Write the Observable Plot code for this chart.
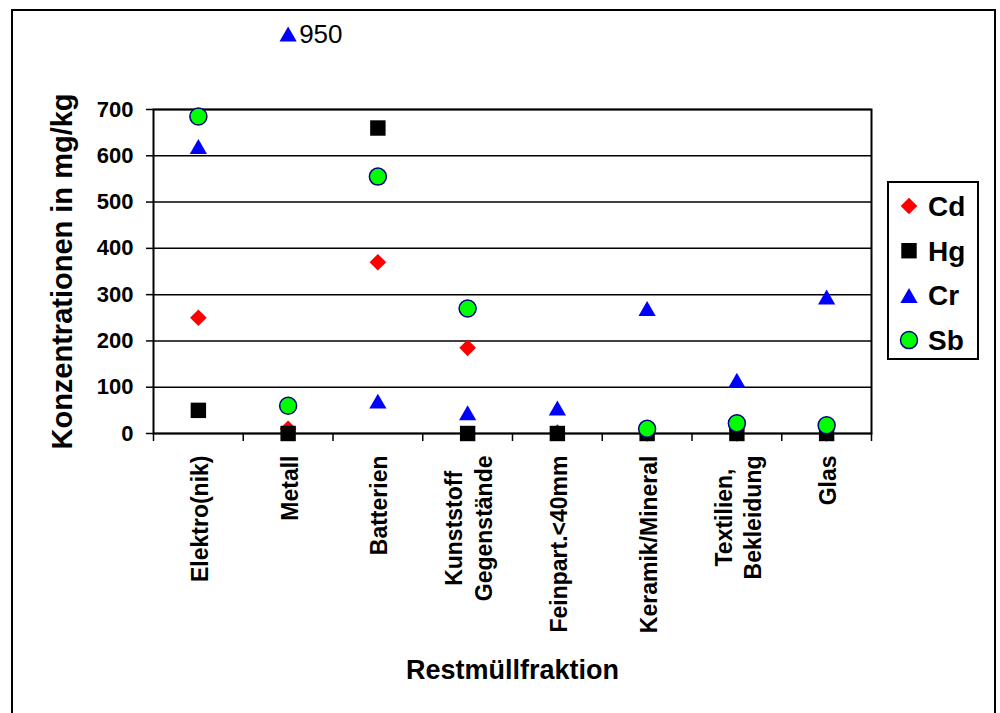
<!DOCTYPE html>
<html>
<head>
<meta charset="utf-8">
<script src="https://cdn.jsdelivr.net/npm/d3@7"></script>
<script src="https://cdn.jsdelivr.net/npm/@observablehq/plot@0.6"></script>
<style>
  html, body { margin: 0; padding: 0; background: #fff; width: 1000px; height: 713px; overflow: hidden; }
  #wrap { position: relative; width: 1000px; height: 713px; font-family: "Liberation Sans", Arial, sans-serif; }
  #border { position: absolute; left: 11px; top: 9px; width: 985px; height: 720px; border: 2px solid #000; box-sizing: border-box; }
  #chart { position: absolute; left: 0; top: 0; }
  #legend { position: absolute; left: 0; top: 0; }
</style>
</head>
<body>
<div id="wrap">
  <div id="border"></div>
  <div id="chart"></div>
  <svg id="legend" width="1000" height="713"></svg>
</div>
<script>
// ---- data ----
const categories = ["Elektro(nik)", "Metall", "Batterien", "Kunststoff\nGegenstände", "Feinpart.<40mm", "Keramik/Mineral", "Textilien,\nBekleidung", "Glas"];
const cd = [250, 10, 370, 185, 2, 0, 0, 0];
const hg = [50, 0, 660, 0, 0, 0, 0, 0];
const cr = [620, 950, 70, 45, 55, 270, 115, 295];
const sb = [685, 60, 555, 270, null, 10, 22, 18];
const yTicks = [0, 100, 200, 300, 400, 500, 600, 700];
const seriesNames = ["Cd", "Hg", "Cr", "Sb"];
const yLabel = "Konzentrationen in mg/kg";
const xLabel = "Restmüllfraktion";

// ---- styles ----
const yMax = 700;
const styles = {
  Cd: {symbol: "diamond2", r: 7.5, fill: "#ff0000", stroke: "none", dy: 0},
  Hg: {symbol: "square", r: 8.7, fill: "#000000", stroke: "none", dy: 0},
  Cr: {symbol: "triangle", r: 6.4, fill: "#0000ff", stroke: "none", dy: 2.5},
  Sb: {symbol: "circle", r: 8.5, fill: "#00ff00", stroke: "#000080", dy: 0}
};

const rows = categories.map((c, i) => ({cat: c, i, Cd: cd[i], Hg: hg[i], Cr: cr[i], Sb: sb[i]}));
const xPos = d => d.i + 0.5;

const font = "'Liberation Sans', Arial, sans-serif";
const ctx = document.createElement("canvas").getContext("2d");
ctx.font = `bold 23px ${font}`;

const seriesMarks = seriesNames.map(s => {
  const st = styles[s];
  return Plot.dot(rows.filter(d => d[s] != null && d[s] <= yMax), {
    x: xPos, y: s, symbol: () => st.symbol, r: st.r, fill: st.fill,
    stroke: st.stroke, strokeWidth: 1.5, dy: st.dy
  });
});

const overflow = rows.filter(d => d.Cr != null && d.Cr > yMax);

const labelMarks = rows.map(d => {
  const w = d3.max(d.cat.split("\n"), l => ctx.measureText(l).width);
  return Plot.text([d], {
    x: xPos, text: "cat", frameAnchor: "bottom", rotate: -90,
    textAnchor: "middle", lineAnchor: "middle", lineHeight: 1.3,
    dy: 22 + w / 2, fontSize: 23, fontWeight: "bold", fill: "#000"
  });
});

const chart = Plot.plot({
  width: 1000, height: 713,
  marginLeft: 153, marginRight: 129, marginTop: 109, marginBottom: 280,
  x: {domain: [0, categories.length], axis: null},
  y: {domain: [0, yMax], axis: null},
  style: {background: "transparent", fontFamily: font, color: "#000"},
  marks: [
    Plot.gridY(yTicks, {stroke: "#000", strokeOpacity: 1, strokeWidth: 1.5}),
    Plot.frame({stroke: "#000", strokeWidth: 2}),
    Plot.axisY(yTicks, {tickSize: 7, tickPadding: 13, fontSize: 22, fontWeight: "bold", label: null, strokeWidth: 1.5}),
    Plot.axisX(d3.range(categories.length + 1), {tickSize: 8, tickFormat: () => "", label: null, strokeWidth: 1.5}),
    ...labelMarks,
    Plot.text([xLabel], {frameAnchor: "bottom", lineAnchor: "middle", dy: 237, fontSize: 27, fontWeight: "bold", fill: "#000"}),
    Plot.text([yLabel], {frameAnchor: "left", rotate: -90, textAnchor: "middle", lineAnchor: "middle", dx: -91, fontSize: 29, fontWeight: "bold", fill: "#000"}),
    ...seriesMarks,
    Plot.dot(overflow, {x: xPos, frameAnchor: "top", dy: -73, symbol: () => styles.Cr.symbol, r: styles.Cr.r, fill: styles.Cr.fill}),
    Plot.text(overflow, {x: xPos, frameAnchor: "top", lineAnchor: "middle", dy: -75, dx: 11, text: d => String(d.Cr), textAnchor: "start", fontSize: 26, fill: "#000"})
  ]
});
document.getElementById("chart").appendChild(chart);

// ---- legend ----
const lg = d3.select("#legend");
lg.append("rect").attr("x", 888).attr("y", 182).attr("width", 90).attr("height", 177)
  .attr("fill", "#fff").attr("stroke", "#000").attr("stroke-width", 2);
const symMap = {diamond2: d3.symbolDiamond2, square: d3.symbolSquare, triangle: d3.symbolTriangle, circle: d3.symbolCircle};
seriesNames.forEach((s, k) => {
  const st = styles[s];
  const cy = 206 + k * 44.7;
  lg.append("path")
    .attr("d", d3.symbol(symMap[st.symbol], Math.PI * st.r * st.r)())
    .attr("transform", `translate(909,${cy + (s === "Cr" ? 2.5 : 0)})`)
    .attr("fill", st.fill).attr("stroke", st.stroke).attr("stroke-width", 1.5);
  lg.append("text").attr("x", 928).attr("y", cy).attr("dy", "0.35em")
    .attr("font-family", font).attr("font-weight", "bold").attr("font-size", 28)
    .text(s);
});
</script>
</body>
</html>
